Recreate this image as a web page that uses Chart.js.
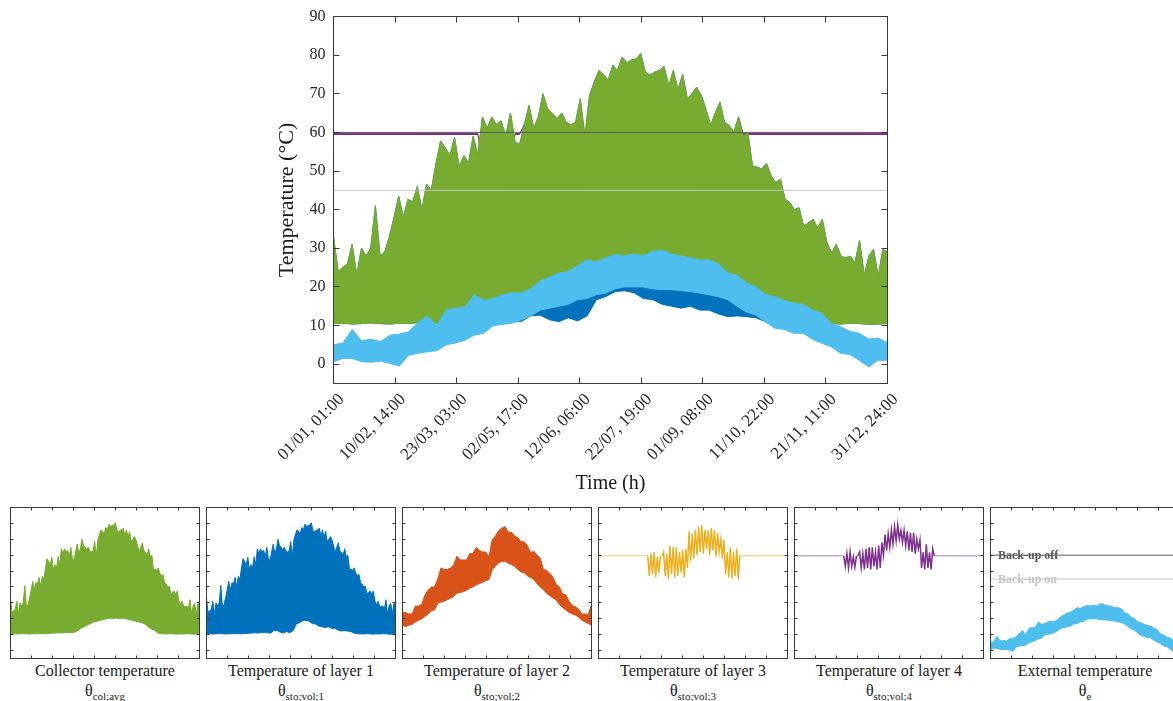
<!DOCTYPE html>
<html><head><meta charset="utf-8">
<script src="https://cdn.jsdelivr.net/npm/chart.js@4.4.1/dist/chart.umd.min.js"></script>
<style>
html,body{margin:0;padding:0;width:1173px;height:701px;overflow:hidden;background:#fff;}
canvas{position:absolute;}
.lbl{position:absolute;width:200px;text-align:center;font-family:"Liberation Serif","Times New Roman",serif;color:#1a1a1a;font-size:16px;line-height:20px;white-space:nowrap;}
.lbl sub{font-size:11px;vertical-align:-4px;line-height:0;}
</style></head><body>
<canvas id="main" width="630" height="500" style="left:270px;top:0px"></canvas>
<div id="panels"></div>
<script>
// ---------------- data ----------------
const TOTAL_HOURS = 8760;
const xTickHours = [1, 974, 1947, 2921, 3894, 4867, 5840, 6814, 7787, 8760];
const xTickLabels = ['01/01, 01:00', '10/02, 14:00', '23/03, 03:00', '02/05, 17:00', '12/06, 06:00',
                     '22/07, 19:00', '01/09, 08:00', '11/10, 22:00', '21/11, 11:00', '31/12, 24:00'];
const yTickValues = [0, 10, 20, 30, 40, 50, 60, 70, 80, 90];
const backupLevels = [60, 45];
const backupNames = ['Back-up off', 'Back-up on'];

// collector temperature, upper envelope (120 samples over the year)
const colMax = [33,24,25,26,31,23,30,28,30,41,
  28,29,33,38,43.5,38,42.7,42,46,40,
  46.6,45,51.8,57.8,56,54,58.7,51,54,52,
  59,54,64,61,64,62,63,59,65,57.4,
  57,62,67,61,64,70,66,65,63.5,65,
  62.6,62,62.6,68.7,59,69.6,73,76,75,73.5,
  77.4,76,79.5,78,78.7,79,80.4,75.6,74.8,75.6,
  76,77,72,76,71,75,68.7,70,71.7,69.6,
  66,61.8,65,67.8,62.6,61.8,60,64,59,60,
  51.3,51,50.5,52,48.7,47,47.9,42.7,41.8,40,
  40.5,35.7,36.6,37.5,35.3,37.5,31.4,28.8,31,28,
  27.5,28,26.2,32,23,28,29.7,22.7,29.7,29];
// collector temperature, lower envelope (60 samples)
const colMin = [10.5,10.6,10.4,10.5,10.7,10.5,10.4,10.6,10.5,10.8,
  10.6,10.5,10.7,10.9,11.0,11.2,11.0,11.3,11.5,11.2,
  11.5,12.5,14.0,15.0,16.0,17.0,18.0,18.5,19.0,19.5,
  20.0,20.4,20.2,20.5,20.0,20.3,20.0,19.5,19.0,18.5,
  18.0,17.5,16.7,15.0,13.5,12.7,11.0,10.6,10.5,10.4,
  10.6,10.5,10.3,10.5,10.4,10.6,10.5,10.3,10.4,10.5];

// storage layer 1 (120 upper samples / 60 lower samples)
const layer1Max = [33,24,25,26,31,23,30,28,30,41,
  28,29,33,38,43.5,38,42.7,42,46,40,
  46.6,45,51.8,57.8,56,54,58.7,51,54,52,
  59,54,64,61,64,62,63,59,65,57.4,
  57,62,67,61,64,70,66,65,63.5,65,
  62.6,62,62.6,68.7,59,69.6,73,76,75,73.5,
  77.4,76,79.5,78,78.7,79,80.4,75.6,74.8,75.6,
  76,77,72,76,71,75,68.7,70,71.7,69.6,
  66,61.8,65,67.8,62.6,61.8,60,64,59,60,
  51.3,51,50.5,52,48.7,47,47.9,42.7,41.8,40,
  40.5,35.7,36.6,37.5,35.3,37.5,31.4,28.8,31,28,
  27.5,28,26.2,32,23,28,29.7,22.7,29.7,29];
const layer1Min = [10.5,10.6,10.4,10.5,10.7,10.5,10.4,10.6,10.5,10.8,
  10.6,10.5,10.7,10.9,11.0,11.2,11.0,11.3,11.5,11.2,
  11.0,12.5,12.7,11.5,11.0,12.0,11.2,12.5,16.7,17.5,
  18.8,19.0,18.5,17.0,16.7,15.5,15.0,14.5,15.0,14.0,
  14.0,13.0,12.3,12.5,12.3,12.0,11.0,10.6,10.5,10.4,
  10.6,10.5,10.3,10.5,10.4,10.6,10.5,10.3,10.4,10.5];

// storage layer 2 (60 samples)
const layer2Max = [24,24,23,23,28,28,29,35,38,40,
  40,45,52,51,51,52,54,59.4,57,57,
  57,61,61,64.8,63,62,62,59,69.5,72,
  75.4,77,78,74.5,74.5,72,71,68.5,68.5,66,
  61.5,62.5,60,58,51,50.5,48.5,46,41.5,40,
  35.5,35,31,28.5,27.5,26,23,23,22.7,29];
const layer2Min = [15.9,15.0,16.0,16.5,18.0,19.0,20.0,21.5,23.0,25.0,
  25.5,29.7,30.5,31.0,32.0,32.9,34.0,36.1,36.5,37.0,
  38.0,39.3,40.0,41.4,42.0,43.0,44.0,44.6,51.0,53.0,
  55.2,56.0,56.3,55.0,54.1,53.0,51.0,49.5,48.9,47.0,
  46.0,44.6,42.0,40.0,38.2,36.0,34.5,33.0,31.8,29.0,
  27.0,25.5,24.0,23.0,22.3,21.0,19.0,18.0,17.0,16.0];

// storage layers 3 and 4 (120 samples, alternating daily extremes where they move)
const layer3 = [59.6,59.6,59.6,59.6,59.6,59.6,59.6,59.6,59.6,59.6,
  59.6,59.6,59.6,59.6,59.6,59.6,59.6,59.6,59.6,59.6,
  59.6,59.6,59.6,59.6,59.6,59.6,59.6,59.6,59.6,59.6,
  59.6,59.6,47,61,48,62,46,59,49,59.6,
  59.6,62,47,61,45,66,48,65,46,65,
  47,62,49,63,46,64,52,75,56,73.5,
  58,76,60,78,62,79,61,75.6,64,75.6,
  60,77,63,76,59,74,62,70,58,69.6,
  48,61.8,46,65,45.4,61.8,47,64,45,59.6,
  59.6,59.6,59.6,59.6,59.6,59.6,59.6,59.6,59.6,59.6,
  59.6,59.6,59.6,59.6,59.6,59.6,59.6,59.6,59.6,59.6,
  59.6,59.6,59.6,59.6,59.6,59.6,59.6,59.6,59.6,59.6];
const layer4 = [59.6,59.6,59.6,59.6,59.6,59.6,59.6,59.6,59.6,59.6,
  59.6,59.6,59.6,59.6,59.6,59.6,59.6,59.6,59.6,59.6,
  59.6,59.6,59.6,59.6,59.6,59.6,59.6,59.6,59.6,59.6,
  59.6,59.6,53,61,52,62,53,59,52.5,59.6,
  59.6,62,52,61,51,64,52,65,51,65,
  53,62,51,66,52,68,60,73,63,73.5,
  65,76,67,78,69,79,70,75.6,68,75.6,
  66,75,63,74,62,74,61,70,64,69.6,
  52,61.8,51,66.8,52,61.8,51,64,59.6,59.6,
  59.6,59.6,59.6,59.6,59.6,59.6,59.6,59.6,59.6,59.6,
  59.6,59.6,59.6,59.6,59.6,59.6,59.6,59.6,59.6,59.6,
  59.6,59.6,59.6,59.6,59.6,59.6,59.6,59.6,59.6,59.6];

// external temperature (60 samples)
const extMax = [5,5.5,9,6,6.5,5.8,7.5,7.8,8.4,10.8,
  12.5,10,14,14.5,14.8,18,16.5,17,18,18.5,
  18.4,19.5,21.5,22.5,23.6,24,25.5,27,26.5,27.5,
  28.4,28,28.6,28,29.2,29.5,28.5,28,27.5,27,
  27,26,23.6,23,21,20,18,17.5,16.5,15.8,
  15.5,14,13.2,10.5,9.7,8.5,8,6.5,6.8,5.5];
const extMin = [0.6,1.5,1.5,0.6,0.5,0.8,0.2,-0.5,2.3,2.8,
  3.2,3.5,5,5.5,6.2,7.5,8,10,10.3,10.6,
  11.4,12.5,14,14.5,15,15.5,16.7,17,18,18.4,
  19.5,20,20,20,19.5,19.3,19.3,19,18.8,18.4,
  18,17.5,16.7,15,13.5,12.7,11,9.3,9,8,
  8,6.5,5.4,4.5,2.8,2.5,1,-0.7,1,1];

// ---------------- styling ----------------
const FONT = '"Liberation Serif", "Times New Roman", serif';
const C = {
  col: '#77AC30', l1: '#0072BD', l2: '#D95319', l3: '#EDB120', l4: '#7E2F8E', ext: '#4DBEEE',
  off: '#595959', on: '#C4C4C4', box: '#3a3a3a', text: '#262626'
};
const panelTitles = [
  ['Collector temperature', 'col;avg'],
  ['Temperature of layer 1', 'sto;vol;1'],
  ['Temperature of layer 2', 'sto;vol;2'],
  ['Temperature of layer 3', 'sto;vol;3'],
  ['Temperature of layer 4', 'sto;vol;4'],
  ['External temperature', 'e']
];

Chart.defaults.font.family = FONT;

function gridHours(n) { return Array.from({length: n}, (_, i) => 1 + i * (TOTAL_HOURS - 1) / (n - 1)); }
function pts(arr) { const h = gridHours(arr.length); return arr.map((y, i) => ({x: h[i], y})); }

function addBand(list, maxArr, minArr, color, order, bw) {
  const iMin = list.length + 1;
  list.push({data: pts(maxArr), borderColor: color, backgroundColor: color, borderWidth: bw,
             fill: {target: iMin, above: color, below: color}, order});
  list.push({data: pts(minArr), borderColor: color, borderWidth: bw, fill: false, order});
}
function addTrace(list, arr, color, flatColor, order, bw, flatBw) {
  list.push({data: pts(arr), borderColor: color, borderWidth: bw, fill: false, order,
    segment: {
      borderColor: c => c.p0.parsed.y === c.p1.parsed.y ? flatColor : color,
      borderWidth: c => c.p0.parsed.y === c.p1.parsed.y ? flatBw : bw
    }});
}
function addLevel(list, level, color, order) {
  list.push({data: [{x: 1, y: level}, {x: TOTAL_HOURS, y: level}], borderColor: color,
             borderWidth: 1, fill: false, order});
}

const innerTicks = {
  id: 'innerTicks',
  afterDraw(chart, args, o) {
    const {ctx, chartArea: a, scales: {x, y}} = chart;
    ctx.save();
    ctx.strokeStyle = o.color; ctx.lineWidth = 1;
    ctx.beginPath();
    x.ticks.forEach(t => {
      const p = Math.round(x.getPixelForValue(t.value) - 0.5) + 0.5;
      ctx.moveTo(p, a.bottom); ctx.lineTo(p, a.bottom - o.len);
      ctx.moveTo(p, a.top); ctx.lineTo(p, a.top + o.len);
    });
    y.ticks.forEach(t => {
      const p = Math.round(y.getPixelForValue(t.value) - 0.5) + 0.5;
      ctx.moveTo(a.left, p); ctx.lineTo(a.left + o.len, p);
      ctx.moveTo(a.right, p); ctx.lineTo(a.right - o.len, p);
    });
    ctx.stroke();
    ctx.strokeRect(a.left, a.top, a.right - a.left, a.bottom - a.top);
    ctx.restore();
  }
};
const levelLabels = {
  id: 'levelLabels',
  beforeDatasetsDraw(chart, args, o) {
    if (!o.show) return;
    const {ctx, chartArea: a, scales: {y}} = chart;
    ctx.save();
    ctx.font = 'bold 12px ' + FONT;
    ctx.textBaseline = 'middle'; ctx.textAlign = 'left';
    backupLevels.forEach((lv, i) => {
      ctx.fillStyle = i === 0 ? C.off : C.on;
      ctx.fillText(backupNames[i], a.left + 7.5, y.getPixelForValue(lv) + 0.5);
    });
    ctx.restore();
  }
};
Chart.register(innerTicks, levelLabels);

const xTicksAfterBuild = s => { s.ticks = xTickHours.map(v => ({value: v})); };
const yTicksAfterBuild = s => { s.ticks = yTickValues.map(v => ({value: v})); };

function baseOptions() {
  return {
    responsive: false, animation: false, events: [],
    elements: {point: {radius: 0}, line: {tension: 0}},
    plugins: {legend: {display: false}, tooltip: {enabled: false}},
  };
}

// ---------------- main chart ----------------
(function () {
  const ds = [];
  addLevel(ds, backupLevels[0], C.off, 0);
  addLevel(ds, backupLevels[1], C.on, 1);
  addBand(ds, extMax, extMin, C.ext, 2, 1);
  addBand(ds, colMax, colMin, C.col, 3, 1);
  addBand(ds, layer1Max, layer1Min, C.l1, 4, 1);
  addBand(ds, layer2Max, layer2Min, C.l2, 5, 1);
  addTrace(ds, layer4, C.l4, C.l4, 6, 1, 2);
  addTrace(ds, layer3, C.l3, C.l3, 7, 1, 2);
  const opt = baseOptions();
  opt.layout = {padding: {top: 16.5, right: 12.5, left: 0, bottom: 0}};
  opt.plugins.innerTicks = {len: 6, color: C.box};
  opt.plugins.levelLabels = {show: false};
  opt.scales = {
    x: {type: 'linear', min: 1, max: TOTAL_HOURS,
        afterBuildTicks: xTicksAfterBuild,
        afterFit: s => { s.height = 116.5; s.paddingLeft = 0; s.paddingRight = 0; },
        grid: {display: false, drawTicks: false}, border: {display: false},
        ticks: {autoSkip: false, minRotation: 45, maxRotation: 45, padding: 6, labelOffset: 8,
                color: C.text, font: {size: 17, family: FONT},
                callback: (v, i) => xTickLabels[i]},
        title: {display: true, text: 'Time (h)', color: '#1a1a1a', font: {size: 20, family: FONT},
                padding: {top: 0, bottom: 4}}},
    y: {type: 'linear', min: -5, max: 90,
        afterBuildTicks: yTicksAfterBuild,
        afterFit: s => { s.width = 63.5; s.paddingTop = 0; s.paddingBottom = 0; },
        grid: {display: false, drawTicks: false}, border: {display: false},
        ticks: {padding: 8, color: C.text, font: {size: 16, family: FONT}},
        title: {display: true, text: 'Temperature (°C)', color: '#1a1a1a', font: {size: 22, family: FONT},
                padding: {top: 4.3, bottom: 0}}}
  };
  new Chart(document.getElementById('main'), {type: 'line', data: {datasets: ds}, options: opt});
})();

// ---------------- small panels ----------------
const panelHost = document.getElementById('panels');
for (let k = 0; k < 6; k++) {
  const cv = document.createElement('canvas');
  cv.width = 196; cv.height = 156;
  cv.style.left = (7 + 196 * k) + 'px'; cv.style.top = '505px';
  panelHost.appendChild(cv);
  const lb = document.createElement('div');
  lb.className = 'lbl';
  lb.style.left = (5 + 196 * k) + 'px'; lb.style.top = '661px';
  lb.innerHTML = '<div>' + panelTitles[k][0] + '</div><div>θ<sub>' + panelTitles[k][1] + '</sub></div>';
  panelHost.appendChild(lb);

  const ds = [];
  if (k === 0) addBand(ds, colMax, colMin, C.col, 0, 1);
  if (k === 1) addBand(ds, layer1Max, layer1Min, C.l1, 0, 1);
  if (k === 2) addBand(ds, layer2Max, layer2Min, C.l2, 0, 1);
  if (k === 3) addTrace(ds, layer3, C.l3, 'rgba(237,177,32,0.75)', 0, 1.5, 1);
  if (k === 4) addTrace(ds, layer4, C.l4, 'rgba(126,47,142,0.65)', 0, 1.5, 1);
  if (k === 5) {
    addLevel(ds, backupLevels[0], C.off, 0);
    addLevel(ds, backupLevels[1], C.on, 1);
    addBand(ds, extMax, extMin, C.ext, 2, 1);
  }
  const opt = baseOptions();
  opt.layout = {padding: {top: 2.5, right: 3.5, left: 3.5, bottom: 2.5}};
  opt.plugins.innerTicks = {len: 3, color: C.box};
  opt.plugins.levelLabels = {show: k === 5};
  opt.scales = {
    x: {type: 'linear', min: 1, max: TOTAL_HOURS, afterBuildTicks: xTicksAfterBuild,
        afterFit: s => { s.height = 0; s.paddingLeft = 0; s.paddingRight = 0; },
        grid: {display: false, drawTicks: false}, border: {display: false}, ticks: {display: false}},
    y: {type: 'linear', min: -5, max: 90, afterBuildTicks: yTicksAfterBuild,
        afterFit: s => { s.width = 0; s.paddingTop = 0; s.paddingBottom = 0; },
        grid: {display: false, drawTicks: false}, border: {display: false}, ticks: {display: false}}
  };
  new Chart(cv, {type: 'line', data: {datasets: ds}, options: opt});
}
</script>
</body></html>
